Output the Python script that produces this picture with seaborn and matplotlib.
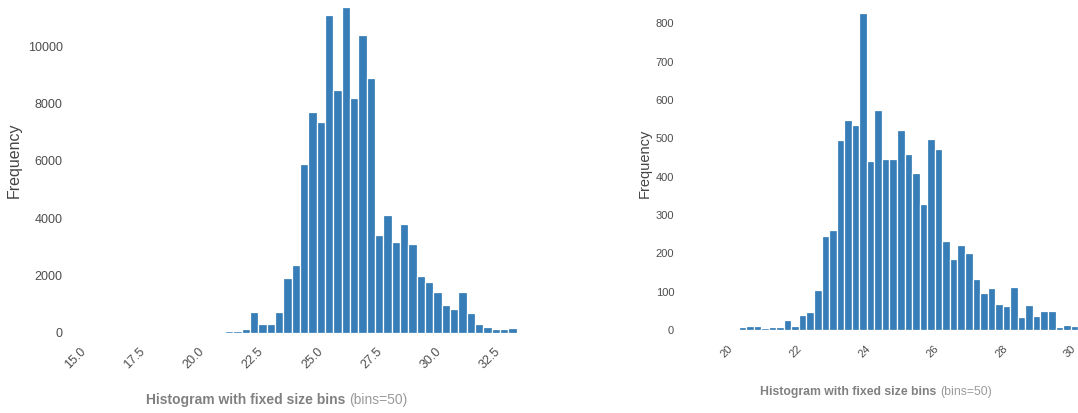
import numpy as np
import pandas as pd
import matplotlib
matplotlib.use("Agg")
import matplotlib.pyplot as plt
from matplotlib import font_manager
import seaborn as sns

# ---------------- data ----------------
left_bin_start = 15.5
left_bin_width = 0.3516
left_counts = [0, 0, 0, 0, 0, 0, 0, 0, 5, 8,
               10, 12, 15, 20, 25, 40, 50, 110, 700, 290,
               290, 720, 1900, 2350, 5880, 7720, 7350, 11100, 8480, 11370,
               8210, 10400, 8890, 3410, 4100, 3150, 3790, 3100, 1975, 1755,
               1405, 950, 820, 1430, 690, 290, 180, 120, 120, 170]
left_xticks = [15.0, 17.5, 20.0, 22.5, 25.0, 27.5, 30.0, 32.5]
left_yticks = [0, 2000, 4000, 6000, 8000, 10000]

right_bin_start = 19.225
right_bin_width = 0.22
right_counts = [3, 3, 2, 0, 8, 10, 10, 5, 7, 8,
                25, 10, 40, 48, 105, 245, 262, 496, 548, 535,
                826, 441, 574, 445, 445, 522, 459, 410, 328, 498,
                471, 232, 184, 222, 200, 132, 96, 109, 67, 63,
                113, 35, 65, 37, 50, 50, 9, 13, 10, 8]
right_xticks = [20, 22, 24, 26, 28, 30]
right_yticks = [0, 100, 200, 300, 400, 500, 600, 700, 800]

xlabel_bold = "Histogram with fixed size bins"
xlabel_rest = "(bins=50)"
ylabel = "Frequency"

# ---------------- style ----------------
sns.set_style("white")
installed = {f.name for f in font_manager.fontManager.ttflist}
base = "Liberation Sans" if "Liberation Sans" in installed else "DejaVu Sans"
narrow = "Liberation Sans Narrow" if "Liberation Sans Narrow" in installed else None
plt.rcParams["font.family"] = [base, "DejaVu Sans"]

BAR = "#377eb8"
TICK_C = "#4d4d4d"
LAB_C = "#444444"
XL_C = "#808080"
XL2_C = "#9a9a9a"

W, H = 1078, 413
fig = plt.figure(figsize=(W / 100, H / 100), dpi=100)


def px_axes(x0, x1, ytop, ybot):
    return fig.add_axes([x0 / W, (H - ybot) / H, (x1 - x0) / W, (ybot - ytop) / H])


def draw_hist(ax, start, width, counts):
    n = len(counts)
    edges = (start + width * np.arange(n + 1)).tolist()
    centers = start + width * (np.arange(n) + 0.5)
    df = pd.DataFrame({"x": centers, "w": counts})
    sns.histplot(data=df, x="x", weights="w", bins=edges, ax=ax, color=BAR,
                 edgecolor="white", linewidth=0.9, alpha=1.0, stat="count")


# ---------------- left ----------------
axL = px_axes(79.4, 537.5, 0, 332.5)
draw_hist(axL, left_bin_start, left_bin_width, left_counts)
axL.set_xlim(14.63, 33.96)
axL.set_ylim(0, 11626)
axL.set_xticks(left_xticks)
axL.set_xticklabels([f"{t:.1f}" for t in left_xticks], rotation=45, ha="right",
                    fontsize=9, color=TICK_C)
axL.set_yticks(left_yticks)
axL.set_yticklabels([str(t) for t in left_yticks], fontsize=9, color=TICK_C)
axL.tick_params(axis="y", length=0, pad=12)
axL.tick_params(axis="x", length=0, pad=9.5)
axL.set_ylabel(ylabel, fontsize=11.5, color=LAB_C)
axL.yaxis.set_label_coords(-0.125, 0.519)
axL.set_xlabel(xlabel_bold, fontsize=10, fontweight="bold", color=XL_C,
               ha="left", va="baseline")
axL.xaxis.set_label_coords(0.1454, -0.215)
axL.annotate(xlabel_rest, xy=(1, 0), xycoords=axL.xaxis.label,
             xytext=(3, 0), textcoords="offset points", ha="left", va="bottom",
             fontsize=10, color=XL2_C)
sns.despine(ax=axL, left=True, bottom=True)

# ---------------- right ----------------
rfam = [narrow, base] if narrow else [base]
rtick = 9 if narrow else 8
rxl = 10.4 if narrow else 8.8

axR = px_axes(689.5, 1078, 0, 330)
draw_hist(axR, right_bin_start, right_bin_width, right_counts)
axR.set_xlim(18.675, 30.0)
axR.set_ylim(0, 861)
axR.set_xticks(right_xticks)
axR.set_xticklabels([str(t) for t in right_xticks], rotation=45, ha="right",
                    fontsize=rtick, color=TICK_C, family=rfam)
axR.set_yticks(right_yticks)
axR.set_yticklabels([str(t) for t in right_yticks], fontsize=rtick, color=TICK_C,
                    family=rfam)
axR.tick_params(axis="y", length=0, pad=11)
axR.tick_params(axis="x", length=0, pad=10)
axR.set_ylabel(ylabel, fontsize=10.5, color=LAB_C)
axR.yaxis.set_label_coords(-0.0965, 0.506)
axR.set_xlabel(xlabel_bold, fontsize=rxl, fontweight="bold", color=XL_C,
               ha="left", va="baseline", family=rfam)
axR.xaxis.set_label_coords(0.181, -0.197)
axR.annotate(xlabel_rest, xy=(1, 0), xycoords=axR.xaxis.label,
             xytext=(3, 0), textcoords="offset points", ha="left", va="bottom",
             fontsize=rxl, color=XL2_C, family=rfam)
sns.despine(ax=axR, left=True, bottom=True)

fig.savefig("out.png", dpi=100)
